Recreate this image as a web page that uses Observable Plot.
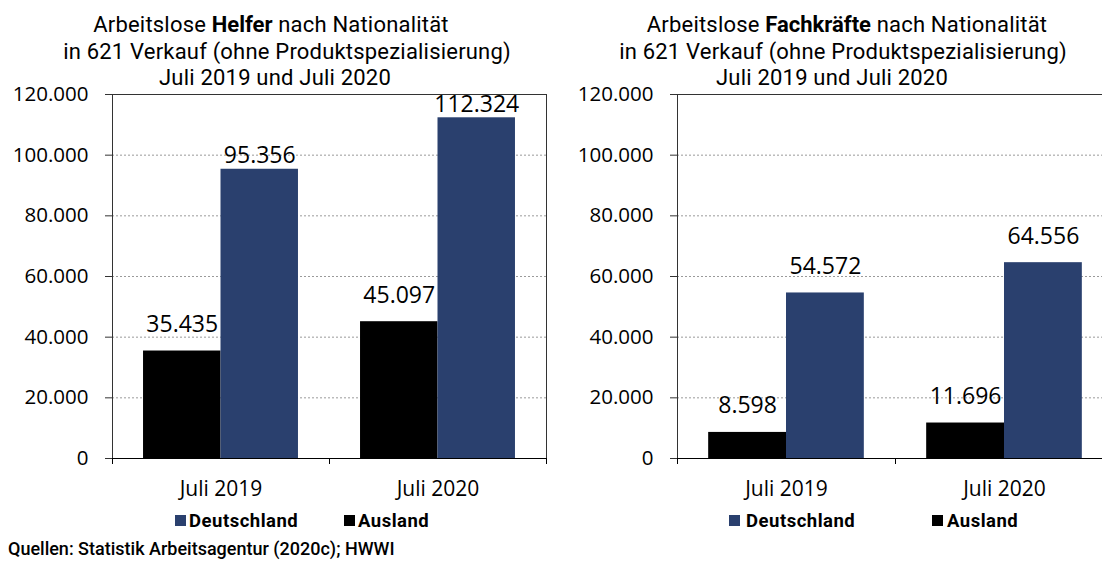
<!DOCTYPE html>
<html><head><meta charset="utf-8">
<script src="https://cdn.jsdelivr.net/npm/d3@7"></script>
<script src="https://cdn.jsdelivr.net/npm/@observablehq/plot@0.6"></script>
<style>
html,body{margin:0;padding:0;background:#fff;}
body{width:1102px;height:565px;overflow:hidden;position:relative;font-family:Roboto,sans-serif;color:#000;}
.t{position:absolute;width:700px;text-align:center;font-size:22px;line-height:22px;white-space:nowrap;font-weight:400;letter-spacing:0.2px;}
.t b{font-weight:700;letter-spacing:0;}
.panel{position:absolute;top:80px;}
.panel svg{max-width:none !important;}
.sq{position:absolute;width:11px;height:11px;top:515px;}
.lt{position:absolute;top:511px;font-size:18.5px;line-height:20px;font-weight:700;letter-spacing:0.5px;white-space:nowrap;}
.cap{position:absolute;left:8px;top:540px;font-size:18px;line-height:18px;font-weight:500;white-space:nowrap;}
</style></head><body>
<script>
// ---- data ----
const categories = ["Juli 2019", "Juli 2020"];
const seriesNames = ["Deutschland", "Ausland"];
const helferAusland = [35435, 45097];
const helferDeutschland = [95356, 112324];
const fachkraefteAusland = [8598, 11696];
const fachkraefteDeutschland = [54572, 64556];
const yTicks = [0, 20000, 40000, 60000, 80000, 100000, 120000];
const titleHelfer = ["Arbeitslose <b>Helfer</b> nach Nationalität", "in 621 Verkauf (ohne Produktspezialisierung)", "Juli 2019 und Juli 2020"];
const titleFach = ["Arbeitslose <b>Fachkräfte</b> nach Nationalität", "in 621 Verkauf (ohne Produktspezialisierung)", "Juli 2019 und Juli 2020"];
const caption = "Quellen: Statistik Arbeitsagentur (2020c); HWWI";

const colors = {Deutschland: "#2a406e", Ausland: "#000000"};
const fmt = d3.formatLocale({decimal: ",", thousands: ".", grouping: [3], currency: ["", " €"]}).format(",d");

function addTitle(lines, centers, baselines) {
  lines.forEach((l, i) => {
    const d = document.createElement("div");
    d.className = "t";
    d.innerHTML = l;
    d.style.left = (centers[i] - 350) + "px";
    d.style.top = (baselines[i] - 17.5) + "px";
    document.body.appendChild(d);
  });
}

function addLegend(pos) {
  seriesNames.forEach((s, i) => {
    const sq = document.createElement("div");
    sq.className = "sq";
    sq.style.left = pos[i][0] + "px";
    sq.style.background = colors[s];
    document.body.appendChild(sq);
    const t = document.createElement("div");
    t.className = "lt";
    t.style.left = pos[i][1] + "px";
    t.textContent = s;
    document.body.appendChild(t);
  });
}

function panel(aus, deu, o) {
  const ausRows = categories.map((c, i) => ({cat: c, nation: "Ausland", value: aus[i]}));
  const deuRows = categories.map((c, i) => ({cat: c, nation: "Deutschland", value: deu[i]}));
  const bw = (o.width - o.marginLeft - o.marginRight) / categories.length;
  const outer = 0.143, mid = 0.5, shift = (mid - outer) / 2;
  const chart = Plot.plot({
    width: o.width, height: 430,
    marginTop: 14, marginBottom: 52, marginLeft: o.marginLeft, marginRight: o.marginRight,
    style: {fontFamily: "'Open Sans', sans-serif", background: "transparent", color: "#000", overflow: "visible", maxWidth: "none"},
    x: {domain: categories, padding: 0, axis: null},
    y: {domain: [0, 120000], axis: null},
    marks: [
      Plot.gridY({ticks: yTicks, stroke: "#9a9a9a", strokeOpacity: 1, strokeDasharray: "2,2"}),
      Plot.barY(ausRows, {x: "cat", y: "value", fill: colors.Ausland, insetLeft: bw * outer, insetRight: bw * mid}),
      Plot.barY(deuRows, {x: "cat", y: "value", fill: colors.Deutschland, insetLeft: bw * mid, insetRight: bw * outer}),
      Plot.frame({stroke: "#333"}),
      Plot.ruleY([0], {stroke: "#000"}),
      Plot.axisY({ticks: yTicks, tickFormat: fmt, tickSize: 7, tickPadding: 17, fontSize: 20.5, label: null, stroke: "#333"}),
      Plot.axisX({tickSize: 0, tickPadding: 23, fontSize: 21, label: null}),
      Plot.ruleX(categories, {x: d => d, y1: 0, y2: 0, dx: -bw / 2, insetBottom: -6, stroke: "#000"}),
      Plot.ruleX(categories.slice(-1), {x: d => d, y1: 0, y2: 0, dx: bw / 2, insetBottom: -6, stroke: "#000"}),
      Plot.text(ausRows, {x: "cat", y: "value", text: d => fmt(d.value), dx: -bw * shift, dy: -19, lineAnchor: "bottom", fontSize: 23}),
      Plot.text(deuRows, {x: "cat", y: "value", text: d => fmt(d.value), dx: bw * shift, dy: -o.deuGap, lineAnchor: "bottom", fontSize: 23})
    ]
  });
  const wrap = document.createElement("div");
  wrap.className = "panel";
  wrap.style.left = o.left + "px";
  wrap.style.width = o.width + "px";
  wrap.appendChild(chart);
  document.body.appendChild(wrap);
}

addTitle(titleHelfer, [271, 287, 275], [31, 58.5, 84]);
addTitle(titleFach, [847, 843, 832], [31, 58.5, 84]);
panel(helferAusland, helferDeutschland, {left: 0, width: 556, marginLeft: 112, marginRight: 10, deuGap: 6});
panel(fachkraefteAusland, fachkraefteDeutschland, {left: 560, width: 563, marginLeft: 117, marginRight: 10, deuGap: 19});
addLegend([[175, 189], [344, 358]]);
addLegend([[729, 746], [932, 947]]);
const c = document.createElement("div");
c.className = "cap";
c.textContent = caption;
document.body.appendChild(c);
</script>
</body></html>
